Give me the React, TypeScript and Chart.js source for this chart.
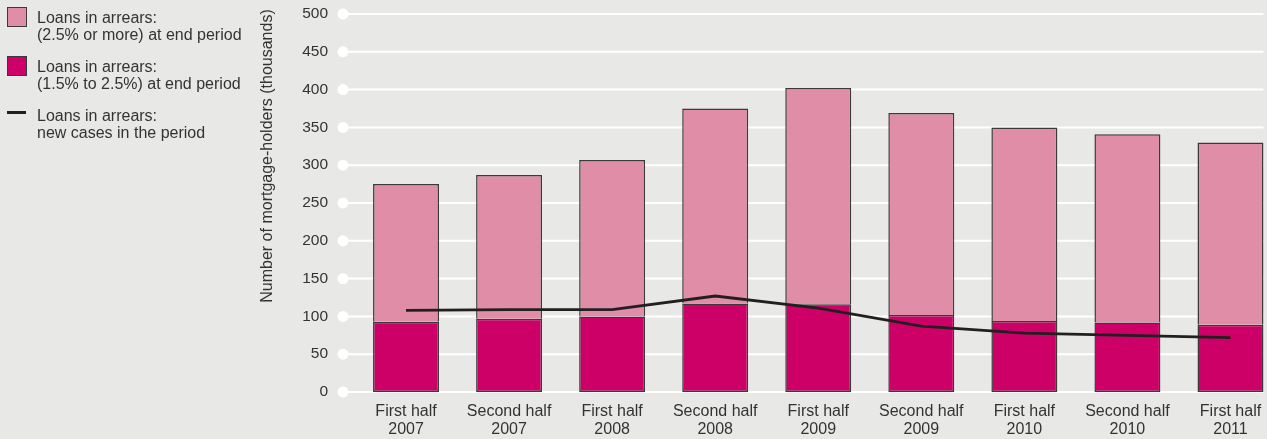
import React, { useEffect, useRef } from "react";
import { Chart, registerables } from "chart.js";

Chart.register(...registerables);

const FONT = '"Liberation Sans", Arial, Helvetica, sans-serif';
const TEXT = "#333333";
const BG = "#E8E9E7";

const categories: string[][] = [
  ["First half", "2007"],
  ["Second half", "2007"],
  ["First half", "2008"],
  ["Second half", "2008"],
  ["First half", "2009"],
  ["Second half", "2009"],
  ["First half", "2010"],
  ["Second half", "2010"],
  ["First half", "2011"],
];

// Loans in arrears (1.5% to 2.5%) at end period
const arrearsMid = [93, 97, 100, 117, 116, 102, 94, 92, 89];
// Loans in arrears (2.5% or more) at end period (segment above the mid series)
const arrearsHigh = [182, 190, 207, 258, 286, 267, 256, 249, 241];
// Loans in arrears: new cases in the period
const newCases = [108, 109, 109, 127, 111, 87, 78, 75, 72];

const yTicks = { min: 0, max: 500, step: 50 };
const yTitle = "Number of mortgage-holders (thousands)";

const legendItems = [
  { kind: "box", color: "#E08DA8", lines: ["Loans in arrears:", "(2.5% or more) at end period"] },
  { kind: "box", color: "#CC0066", lines: ["Loans in arrears:", "(1.5% to 2.5%) at end period"] },
  { kind: "line", color: "#231F20", lines: ["Loans in arrears:", "new cases in the period"] },
];

const gridPlugin = {
  id: "customGrid",
  beforeDatasetsDraw(chart: any) {
    const y = chart.scales.y;
    const ctx = chart.ctx as CanvasRenderingContext2D;
    const meta = chart.getDatasetMeta(1);
    const last = meta.data[meta.data.length - 1] as any;
    const xEnd = last.x + last.width / 2;
    const xStart = chart.chartArea.left - 11.5;
    ctx.save();
    ctx.strokeStyle = "#ffffff";
    ctx.fillStyle = "#ffffff";
    ctx.lineWidth = 2;
    y.ticks.forEach((t: any) => {
      const py = y.getPixelForValue(t.value);
      ctx.beginPath();
      ctx.moveTo(xStart, py);
      ctx.lineTo(xEnd, py);
      ctx.stroke();
      ctx.beginPath();
      ctx.arc(xStart, py, 5.5, 0, Math.PI * 2);
      ctx.fill();
    });
    ctx.restore();
  },
  afterDraw(chart: any) {
    const ctx = chart.ctx as CanvasRenderingContext2D;
    ctx.save();
    ctx.translate(268, 156);
    ctx.rotate(-Math.PI / 2);
    ctx.font = `16px ${FONT}`;
    ctx.fillStyle = TEXT;
    ctx.textAlign = "center";
    ctx.textBaseline = "middle";
    ctx.fillText(yTitle, 0, 0);
    ctx.restore();
  },
};

export default function App() {
  const ref = useRef<HTMLCanvasElement | null>(null);

  useEffect(() => {
    document.body.style.margin = "0";
    document.body.style.overflow = "hidden";
    document.body.style.background = BG;
    if (!ref.current) return;
    const chart = new Chart(ref.current, {
      type: "bar",
      data: {
        labels: categories,
        datasets: [
          {
            type: "line",
            label: "Loans in arrears: new cases in the period",
            data: newCases,
            borderColor: "#231F20",
            borderWidth: 2.8,
            pointRadius: 0,
            tension: 0,
            fill: false,
            stack: "line",
            order: 0,
          } as any,
          {
            type: "bar",
            label: "Loans in arrears: (1.5% to 2.5%) at end period",
            data: arrearsMid,
            backgroundColor: "#CC0066",
            borderColor: "#3A3A3A",
            borderWidth: 1.5,
            borderSkipped: false,
            stack: "bars",
            order: 1,
            categoryPercentage: 1,
            barPercentage: 0.64,
          },
          {
            type: "bar",
            label: "Loans in arrears: (2.5% or more) at end period",
            data: arrearsHigh,
            backgroundColor: "#E08DA8",
            borderColor: "#3A3A3A",
            borderWidth: 1.5,
            stack: "bars",
            order: 2,
            categoryPercentage: 1,
            barPercentage: 0.64,
          },
        ],
      },
      options: {
        responsive: false,
        animation: false,
        layout: { padding: { top: 14, left: 0, right: 0, bottom: 0 } },
        plugins: { legend: { display: false }, tooltip: { enabled: false } },
        scales: {
          x: {
            stacked: true,
            grid: { display: false, drawTicks: false },
            border: { display: false },
            ticks: {
              color: TEXT,
              font: { family: FONT, size: 16, lineHeight: 1.125 },
              padding: 11,
              maxRotation: 0,
              autoSkip: false,
            },
            afterFit(s: any) {
              s.height = 47;
            },
          },
          y: {
            stacked: true,
            min: yTicks.min,
            max: yTicks.max,
            grid: { display: false, drawTicks: true, tickLength: 22.5 },
            border: { display: false },
            ticks: {
              stepSize: yTicks.step,
              color: TEXT,
              font: { family: FONT, size: 15.5 },
              padding: 4,
            },
            afterFit(s: any) {
              s.width = 354.5;
            },
          },
        },
      },
      plugins: [gridPlugin],
    });
    return () => chart.destroy();
  }, []);

  return (
    <div
      style={{
        position: "relative",
        width: 1267,
        height: 439,
        overflow: "hidden",
        background: BG,
        fontFamily: FONT,
      }}
    >
      <canvas
        ref={ref}
        width={1282}
        height={439}
        style={{ position: "absolute", left: 0, top: 0, width: 1282, height: 439 }}
      />
      {legendItems.map((it, i) => {
        const top = 7 + i * 49;
        return (
          <div key={i}>
            {it.kind === "box" ? (
              <div
                style={{
                  position: "absolute",
                  left: 7,
                  top,
                  width: 18,
                  height: 18,
                  background: it.color,
                  border: "1px solid #3A3A3A",
                }}
              />
            ) : (
              <div
                style={{
                  position: "absolute",
                  left: 7,
                  top: top + 5.5,
                  width: 19,
                  height: 3,
                  background: it.color,
                }}
              />
            )}
            <div
              style={{
                position: "absolute",
                left: 37,
                top: top + 1.5,
                fontSize: 16,
                lineHeight: "17px",
                color: TEXT,
                whiteSpace: "nowrap",
              }}
            >
              {it.lines.map((l, j) => (
                <div key={j}>{l}</div>
              ))}
            </div>
          </div>
        );
      })}
    </div>
  );
}
